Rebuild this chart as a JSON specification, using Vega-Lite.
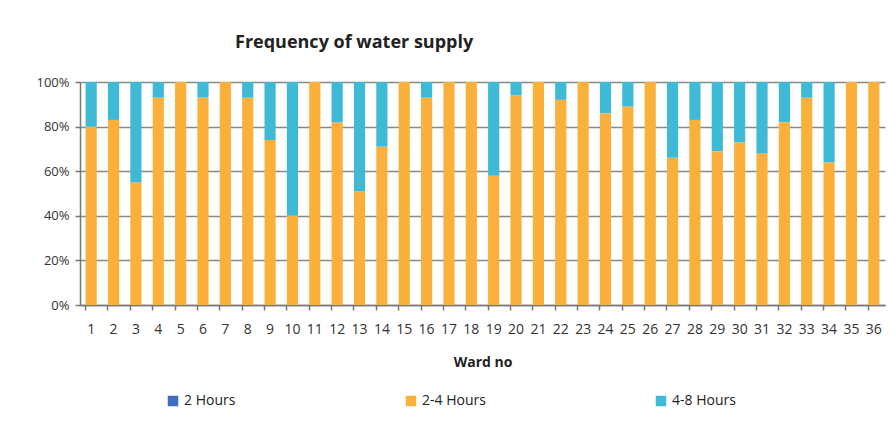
{
  "$schema": "https://vega.github.io/schema/vega-lite/v6.json",
  "autosize": {"type": "none"},
  "width": 805,
  "height": 223,
  "padding": {"left": 80, "top": 82, "right": 11, "bottom": 118},
  "background": "white",
  "title": {"text": "Frequency of water supply", "anchor": "start", "frame": "group", "dx": 155, "offset": 24, "fontSize": 18, "fontWeight": "bold", "font": "Open Sans", "color": "#222"},
  "data": {"values": [
    {"ward": 1, "hours": "2-4 Hours", "pct": 80}, {"ward": 1, "hours": "4-8 Hours", "pct": 20},
    {"ward": 2, "hours": "2-4 Hours", "pct": 83}, {"ward": 2, "hours": "4-8 Hours", "pct": 17},
    {"ward": 3, "hours": "2-4 Hours", "pct": 55}, {"ward": 3, "hours": "4-8 Hours", "pct": 45},
    {"ward": 4, "hours": "2-4 Hours", "pct": 93}, {"ward": 4, "hours": "4-8 Hours", "pct": 7},
    {"ward": 5, "hours": "2-4 Hours", "pct": 100},
    {"ward": 6, "hours": "2-4 Hours", "pct": 93}, {"ward": 6, "hours": "4-8 Hours", "pct": 7},
    {"ward": 7, "hours": "2-4 Hours", "pct": 100},
    {"ward": 8, "hours": "2-4 Hours", "pct": 93}, {"ward": 8, "hours": "4-8 Hours", "pct": 7},
    {"ward": 9, "hours": "2-4 Hours", "pct": 74}, {"ward": 9, "hours": "4-8 Hours", "pct": 26},
    {"ward": 10, "hours": "2-4 Hours", "pct": 40}, {"ward": 10, "hours": "4-8 Hours", "pct": 60},
    {"ward": 11, "hours": "2-4 Hours", "pct": 100},
    {"ward": 12, "hours": "2-4 Hours", "pct": 82}, {"ward": 12, "hours": "4-8 Hours", "pct": 18},
    {"ward": 13, "hours": "2-4 Hours", "pct": 51}, {"ward": 13, "hours": "4-8 Hours", "pct": 49},
    {"ward": 14, "hours": "2-4 Hours", "pct": 71}, {"ward": 14, "hours": "4-8 Hours", "pct": 29},
    {"ward": 15, "hours": "2-4 Hours", "pct": 100},
    {"ward": 16, "hours": "2-4 Hours", "pct": 93}, {"ward": 16, "hours": "4-8 Hours", "pct": 7},
    {"ward": 17, "hours": "2-4 Hours", "pct": 100},
    {"ward": 18, "hours": "2-4 Hours", "pct": 100},
    {"ward": 19, "hours": "2-4 Hours", "pct": 58}, {"ward": 19, "hours": "4-8 Hours", "pct": 42},
    {"ward": 20, "hours": "2-4 Hours", "pct": 94}, {"ward": 20, "hours": "4-8 Hours", "pct": 6},
    {"ward": 21, "hours": "2-4 Hours", "pct": 100},
    {"ward": 22, "hours": "2-4 Hours", "pct": 92}, {"ward": 22, "hours": "4-8 Hours", "pct": 8},
    {"ward": 23, "hours": "2-4 Hours", "pct": 100},
    {"ward": 24, "hours": "2-4 Hours", "pct": 86}, {"ward": 24, "hours": "4-8 Hours", "pct": 14},
    {"ward": 25, "hours": "2-4 Hours", "pct": 89}, {"ward": 25, "hours": "4-8 Hours", "pct": 11},
    {"ward": 26, "hours": "2-4 Hours", "pct": 100},
    {"ward": 27, "hours": "2-4 Hours", "pct": 66}, {"ward": 27, "hours": "4-8 Hours", "pct": 34},
    {"ward": 28, "hours": "2-4 Hours", "pct": 83}, {"ward": 28, "hours": "4-8 Hours", "pct": 17},
    {"ward": 29, "hours": "2-4 Hours", "pct": 69}, {"ward": 29, "hours": "4-8 Hours", "pct": 31},
    {"ward": 30, "hours": "2-4 Hours", "pct": 73}, {"ward": 30, "hours": "4-8 Hours", "pct": 27},
    {"ward": 31, "hours": "2-4 Hours", "pct": 68}, {"ward": 31, "hours": "4-8 Hours", "pct": 32},
    {"ward": 32, "hours": "2-4 Hours", "pct": 82}, {"ward": 32, "hours": "4-8 Hours", "pct": 18},
    {"ward": 33, "hours": "2-4 Hours", "pct": 93}, {"ward": 33, "hours": "4-8 Hours", "pct": 7},
    {"ward": 34, "hours": "2-4 Hours", "pct": 64}, {"ward": 34, "hours": "4-8 Hours", "pct": 36},
    {"ward": 35, "hours": "2-4 Hours", "pct": 100},
    {"ward": 36, "hours": "2-4 Hours", "pct": 100}
  ]},
  "mark": {"type": "bar"},
  "encoding": {
    "x": {
      "field": "ward", "type": "ordinal",
      "scale": {"paddingInner": 0.5, "paddingOuter": 0.25},
      "axis": {"title": "Ward no", "titleFontSize": 14, "titleFontWeight": "bold", "titleFont": "Open Sans", "titleColor": "#222", "titlePadding": 19,
               "labelAngle": 0, "labelFontSize": 14, "labelFont": "Open Sans", "labelColor": "#333", "labelPadding": 12,
               "bandPosition": 0, "tickColor": "#777", "tickSize": 5, "tickWidth": 1.5, "domainColor": "#777", "domainWidth": 1.5}
    },
    "y": {
      "field": "pct", "type": "quantitative", "stack": "normalize",
      "scale": {"domain": [0, 1]},
      "axis": {"title": null, "values": [0, 0.2, 0.4, 0.6, 0.8, 1], "format": ".0%", "labelFontSize": 13, "labelFont": "Open Sans", "labelColor": "#333",
               "grid": true, "gridColor": "#888", "gridWidth": 1.5, "tickColor": "#777", "tickSize": 5, "tickWidth": 1.5, "domainColor": "#777", "domainWidth": 1.5, "labelPadding": 6}
    },
    "order": {"field": "hours", "sort": "ascending"},
    "color": {
      "field": "hours", "type": "nominal",
      "scale": {"domain": ["2 Hours", "2-4 Hours", "4-8 Hours"], "range": ["#3F6EC0", "#FBB03B", "#3FBAD6"]},
      "legend": {"title": null, "orient": "none", "legendX": 86, "legendY": 312, "direction": "horizontal", "columns": 3, "columnPadding": 168,
                 "symbolType": "square", "symbolSize": 110, "symbolStrokeWidth": 0, "labelFontSize": 14, "labelFont": "Open Sans", "labelColor": "#222"}
    }
  },
  "config": {"view": {"stroke": null}}
}
